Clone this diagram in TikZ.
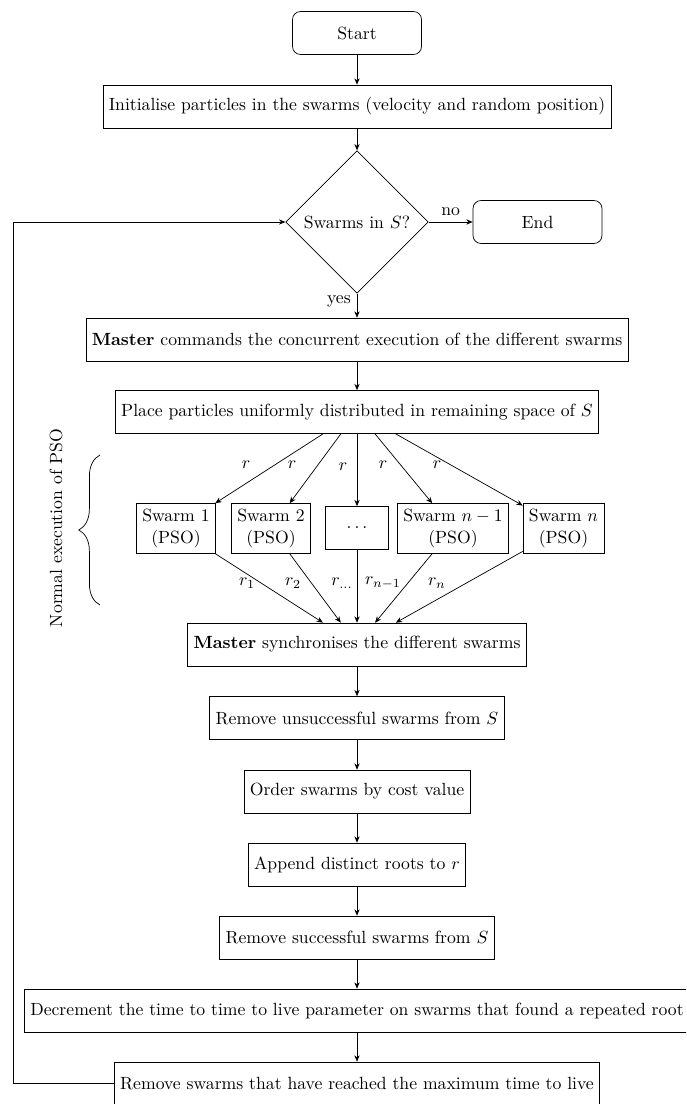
\documentclass[tikz,border=0pt]{standalone}
\usetikzlibrary{shapes.geometric, decorations.pathreplacing, arrows.meta}

\tikzset{
  box/.style={draw, rectangle, minimum height=24.3pt, inner sep=3.33pt, align=center},
  term/.style={box, rounded corners=4.5pt, minimum width=73pt},
  decision/.style={draw, diamond, aspect=1, inner sep=3.33pt},
  arr/.style={-{Stealth[length=3.6pt, width=3pt]}},
  lbl/.style={inner sep=0pt},
}

\begin{document}
\begin{tikzpicture}[x=0.566pt, y={(0pt,-0.566pt)}]
\useasboundingbox (0,0) rectangle (686,1104);
\clip (0,0) rectangle (686,1104);

% main column
\node[term]     (start)  at (357,33)     {Start};
\node[box]      (init)   at (357,106.5)  {Initialise particles in the swarms (velocity and random position)};
\node[decision] (dia)    at (357,222)    {Swarms in $S$?};
\node[term]     (stop)   at (537.5,222)  {End};
\node[box]      (master) at (357,339.5)  {\textbf{Master} commands the concurrent execution of the different swarms};
\node[box]      (place)  at (357,412)    {Place particles uniformly distributed in remaining space of $S$};

% concurrent swarms
\node[box] (s1)  at (176,528.5)   {Swarm 1\\(PSO)};
\node[box] (s2)  at (271,528.5)   {Swarm 2\\(PSO)};
\node[box, minimum width=36pt] (sd) at (357,528) {$\dots$};
\node[box] (sn1) at (453,528.5)   {Swarm $n-1$\\(PSO)};
\node[box] (sn)  at (563.5,528.5) {Swarm $n$\\(PSO)};

\node[box] (sync)   at (357,644.5)  {\textbf{Master} synchronises the different swarms};
\node[box] (rmu)    at (357,718)    {Remove unsuccessful swarms from $S$};
\node[box] (order)  at (357,791.5)  {Order swarms by cost value};
\node[box] (append) at (357,864.5)  {Append distinct roots to $r$};
\node[box] (rms)    at (357,937.5)  {Remove successful swarms from $S$};
\node[box] (decr)   at (357,1010.5) {Decrement the time to time to live parameter on swarms that found a repeated root};
\node[box] (rmmax)  at (357,1083.5) {Remove swarms that have reached the maximum time to live};

% straight flow
\draw[arr] (start) -- (init);
\draw[arr] (init) -- (dia);
\draw[arr] (dia) -- node[above] {no} (stop);
\draw[arr] (dia) -- node[pos=0.3, left] {yes} (master);
\draw[arr] (master) -- (place);
\draw[arr] (sync) -- (rmu);
\draw[arr] (rmu) -- (order);
\draw[arr] (order) -- (append);
\draw[arr] (append) -- (rms);
\draw[arr] (rms) -- (decr);
\draw[arr] (decr) -- (rmmax);

% fan out to the swarms
\draw[arr] (place) -- (s1);
\draw[arr] (place) -- (s2);
\draw[arr] (place) -- (sd);
\draw[arr] (place) -- (sn1);
\draw[arr] (place) -- (sn);
\node[lbl] (ra) at (246,465) {$r$};
\node[lbl] (rb) at (292,465) {$r$};
\node[lbl] (rc) at (343,467) {$r$};
\node[lbl] (rd) at (383,465) {$r$};
\node[lbl] (re) at (437,465) {$r$};

% fan in to the master
\draw[arr] (s1)  -- (sync);
\draw[arr] (s2)  -- (sync);
\draw[arr] (sd)  -- (sync);
\draw[arr] (sn1) -- (sync);
\draw[arr] (sn)  -- (sync);
\node[lbl] (qa) at (247,583) {$r_1$};
\node[lbl] (qb) at (293,583) {$r_2$};
\node[lbl] (qc) at (342,583) {$r_{\dots}$};
\node[lbl] (qd) at (383,583) {$r_{n-1}$};
\node[lbl] (qe) at (437,583) {$r_n$};

% loop back to the test
\coordinate (loopcorner) at (13,1083.5);
\draw[arr] (rmmax.west) -- (loopcorner) |- (dia.west);

% brace over the parallel section
\coordinate (braceBot) at (100,605);
\coordinate (braceTop) at (100,455);
\draw[decorate, decoration={brace, amplitude=12pt}] (braceBot) -- (braceTop);
\node[rotate=90] (normal) at (56,528) {Normal execution of PSO};
\end{tikzpicture}
\end{document}
